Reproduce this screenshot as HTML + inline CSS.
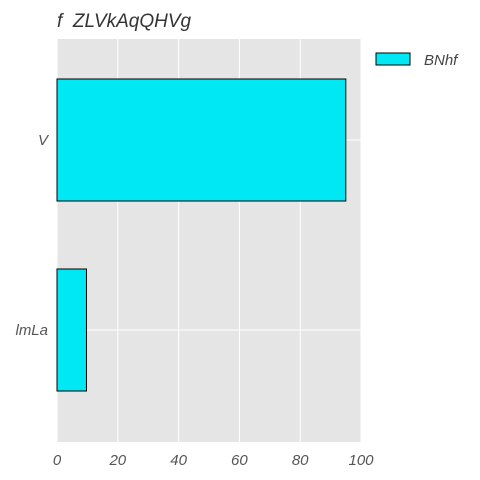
<!DOCTYPE html>
<html><head><meta charset="utf-8"><style>
body{margin:0;background:#fff}
svg{display:block;font-family:"Liberation Sans",sans-serif;font-style:italic}
</style></head><body>
<svg id="chart" width="480" height="480" viewBox="0 0 480 480">
<text x="57" y="27" font-size="19" fill="#333" xml:space="preserve" style="white-space:pre">f  ZLVkAqQHVg</text>
<rect x="57" y="39" width="304" height="403" fill="#e5e5e5"/>
<g id="grid"></g><g id="bars"></g><g id="xticks"></g><g id="yticks"></g>
<g>
<rect x="376" y="53" width="34" height="12" fill="#00e8f4" stroke="#000" stroke-width="1"/>
<text x="424" y="65" font-size="15" fill="#444">BNhf</text>
</g>
</svg>
<script>
const categories = ["V", "lmLa"];
const values = [95, 9.7];
const xTicks = [0, 20, 40, 60, 80, 100];
const NS = "http://www.w3.org/2000/svg";
const x0 = 57, x1 = 361, y0 = 39, y1 = 442;
const xs = v => x0 + (v / 100) * (x1 - x0);
const unit = 190;
const yc = i => 140 + unit * i;
function mk(tag, attrs, parent) { const e = document.createElementNS(NS, tag); for (const k in attrs) e.setAttribute(k, attrs[k]); document.getElementById(parent).appendChild(e); return e; }
xTicks.forEach(t => {
  const l = mk("line", {x1: xs(t), x2: xs(t), y1: y0, y2: y1, stroke: "#fff", "stroke-width": 1}, "grid");
  
  
  const tx = mk("text", {x: xs(t), y: 465, "font-size": 15, fill: "#555", "text-anchor": "middle"}, "xticks");
  tx.textContent = t;
  
  
});
categories.forEach((c, i) => {
  const g = mk("line", {x1: x0, x2: x1, y1: yc(i), y2: yc(i), stroke: "#fff", "stroke-width": 1}, "grid");
  
  
  const h = 122;
  const r = mk("rect", {x: x0, y: yc(i) - h / 2, width: xs(values[i]) - x0, height: h, fill: "#00e8f4", stroke: "#000", "stroke-width": 1}, "bars");
  
  
  const t = mk("text", {x: 48, y: yc(i) + 5, "font-size": 15, fill: "#555", "text-anchor": "end"}, "yticks");
  t.textContent = c;
  
  
});
</script>
</body></html>
